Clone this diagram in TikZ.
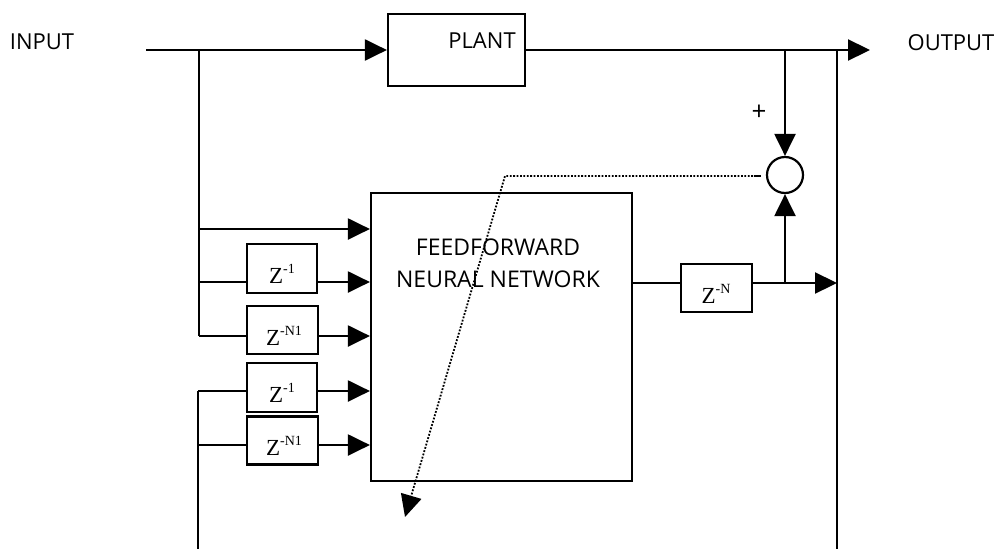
\documentclass[tikz,border=0pt]{standalone}
\usepackage{fontspec}
\setmainfont{Open Sans}
\newfontfamily\zfont{Liberation Serif}
\usetikzlibrary{arrows.meta}
\newcommand{\zsup}[1]{{\zfont\fontsize{23}{24}\selectfont Z\raisebox{10pt}{\fontsize{14}{14}\selectfont #1}}}
\begin{document}
\begin{tikzpicture}[x=1pt,y=-1pt, line width=2.2pt,
  arr/.style={-{Triangle[length=22pt,width=21pt]}},
  blk/.style={draw, rectangle, inner sep=0pt, line width=2.2pt},
  lbl/.style={font=\fontsize{22}{30}\selectfont, inner sep=0pt},
  dotline/.style={line width=1.8pt, dash pattern=on 1.8pt off 1.6pt}]
\useasboundingbox (0,0) rectangle (1000,549);

% labels
\node[lbl] (intext) at (42,42) {INPUT};
\node[lbl] (outtext) at (951,43) {OUTPUT};

% blocks
\node[blk, minimum width=137pt, minimum height=72pt] (plant) at (456.5,50) {};
\node[lbl] (planttext) at (482,41) {PLANT};
\node[blk, minimum width=261pt, minimum height=288pt] (nn) at (501.5,337) {};
\node[lbl, font=\fontsize{23}{32}\selectfont, align=center] (nntext) at (498,263) {FEEDFORWARD\\NEURAL NETWORK};

\node[blk, minimum width=70pt, minimum height=49pt] (z1) at (282,268.5) {};
\node[blk, minimum width=71pt, minimum height=48pt] (z2) at (282.5,330) {};
\node[blk, minimum width=70pt, minimum height=49pt] (z3) at (282,387.5) {};
\node[blk, minimum width=71pt, minimum height=48pt] (z4) at (282.5,440.5) {};
\node[blk, minimum width=71pt, minimum height=48pt] (zN) at (716.5,288) {};
\node[inner sep=0pt] (z1t) at (282,274) {\zsup{-1}};
\node[inner sep=0pt] (z2t) at (284,336) {\zsup{-N1}};
\node[inner sep=0pt] (z3t) at (282,393) {\zsup{-1}};
\node[inner sep=0pt] (z4t) at (284,446) {\zsup{-N1}};
\node[inner sep=0pt] (zNt) at (716,294) {\zsup{-N}};

\node[draw, circle, minimum size=36pt, inner sep=0pt] (sum) at (785,175) {};
\node[font=\fontsize{26}{26}\selectfont, inner sep=0pt] (plus) at (759,113) {+};

% coordinates
\coordinate (in0) at (146,50);
\coordinate (out) at (870,50);
\coordinate (j1) at (785,50);
\coordinate (j2) at (785,283);
\coordinate (R0) at (837,50);
\coordinate (Rb) at (837,549);
\coordinate (L0) at (199,50);
\coordinate (L1) at (199,229);
\coordinate (L2) at (199,282);
\coordinate (L3) at (199,336);
\coordinate (M1) at (198,391);
\coordinate (M2) at (198,445);
\coordinate (Mb) at (198,549);
\coordinate (ds) at (753,176);
\coordinate (db) at (505,176);
\coordinate (de) at (405,517);

% connectors
\draw[arr] (in0) -- (in0 -| plant.west);
\draw[arr] (plant.east |- in0) -- (out);
\draw[arr] (j1) -- (sum.north);
\draw[arr] (j2) -- (sum.south);
\draw (R0) -- (Rb);
\draw (L0) -- (L3);
\draw[arr] (L1) -- (L1 -| nn.west);
\draw (L2) -- (L2 -| z1.west);
\draw[arr] (L2 -| z1.east) -- (L2 -| nn.west);
\draw (L3) -- (L3 -| z2.west);
\draw[arr] (L3 -| z2.east) -- (L3 -| nn.west);
\draw (M1) -- (Mb);
\draw (M1) -- (M1 -| z3.west);
\draw[arr] (M1 -| z3.east) -- (M1 -| nn.west);
\draw (M2) -- (M2 -| z4.west);
\draw[arr] (M2 -| z4.east) -- (M2 -| nn.west);
\draw (nn.east |- j2) -- (j2 -| zN.west);
\draw (j2 -| zN.east) -- (j2);
\draw[arr] (j2) -- (j2 -| R0);

% dotted error path with minus mark
\draw[line width=1.8pt] (sum.west) ++(-5,1) coordinate (mn1) -- ++(-7,0) coordinate (mn2);
\draw[dotline, -{Triangle[length=22pt,width=21pt]}] (ds) -- (db) -- (de);
\end{tikzpicture}
\end{document}
